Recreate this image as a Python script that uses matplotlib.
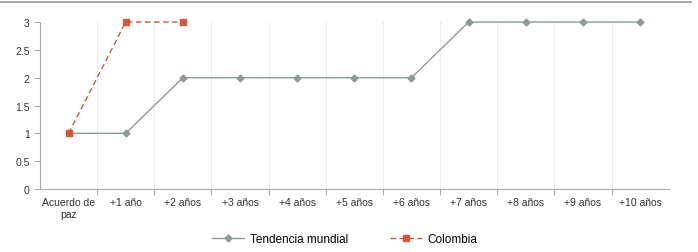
import numpy as np
import matplotlib.pyplot as plt
from matplotlib.lines import Line2D

plt.rcParams['font.family'] = ['Liberation Sans', 'DejaVu Sans']

categorias = ['Acuerdo de\npaz', '+1 año', '+2 años', '+3 años', '+4 años', '+5 años',
              '+6 años', '+7 años', '+8 años', '+9 años', '+10 años']
tendencia_mundial = [1, 1, 2, 2, 2, 2, 2, 3, 3, 3, 3]
colombia = [1, 3, 3]

gris = '#8e9a96'
rojo = '#d9553a'

fig = plt.figure(figsize=(6.98, 2.53), dpi=100)
ax = fig.add_axes([0.0573, 0.249, 0.9007, 0.66])

x = np.arange(len(categorias))
ax.plot(x, tendencia_mundial, color=gris, lw=1.0, marker='D', ms=3.5,
        label='Tendencia mundial', clip_on=False)
ax.plot(x[:len(colombia)], colombia, color=rojo, lw=1.0, ls=(0, (4, 2.5)),
        marker='s', ms=4.5, label='Colombia', zorder=3, clip_on=False)

ax.set_xlim(-0.5, len(categorias) - 0.5)
ax.set_ylim(0, 3)
ax.set_yticks(np.arange(0, 3.01, 0.5))
ax.set_yticklabels(['0', '0.5', '1', '1.5', '2', '2.5', '3'])
ax.set_xticks(x)
ax.set_xticklabels(categorias)
ax.set_xticks(np.arange(0.5, len(categorias) - 0.5, 1), minor=True)
ax.tick_params(axis='x', which='major', length=0, pad=6, labelsize=7.5, colors='#333333')
ax.tick_params(axis='x', which='minor', length=4, color='#aaaaaa', width=0.8)
ax.tick_params(axis='y', length=4, color='#aaaaaa', width=0.8, labelsize=7.5,
               labelcolor='#333333')
ax.grid(axis='x', which='minor', color='#eeeeee', lw=0.8)

for s in ['top', 'right']:
    ax.spines[s].set_visible(False)
for s in ['left', 'bottom']:
    ax.spines[s].set_color('#aaaaaa')
    ax.spines[s].set_linewidth(0.8)

ax.legend(loc='center', bbox_to_anchor=(0.485, -0.30), ncol=2, frameon=False,
          fontsize=8.5, handlelength=2.7, columnspacing=3.5, handletextpad=0.5)

fig.add_artist(Line2D([0.0, 0.99], [0.988, 0.988], color='#999999', lw=1.2,
                      transform=fig.transFigure))

fig.savefig('out.png', dpi=100)
